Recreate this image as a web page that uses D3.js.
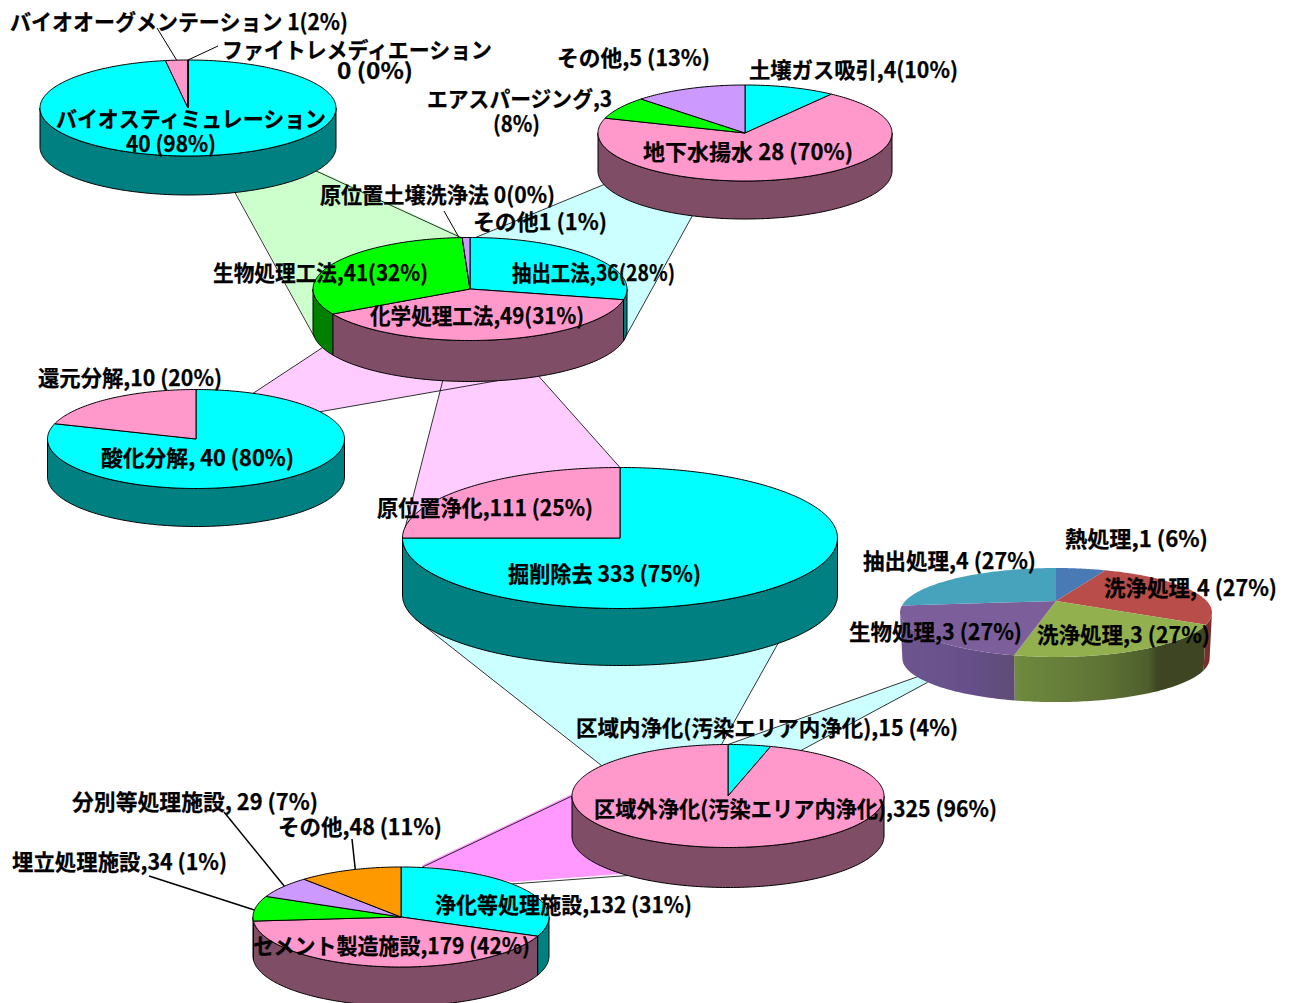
<!DOCTYPE html>
<html>
<head>
<meta charset="utf-8">
<script src="https://cdn.jsdelivr.net/npm/d3@7"></script>
<style>
  html, body { margin: 0; padding: 0; background: #fff; overflow: hidden; }
  text { font-family: "Noto Sans CJK JP", sans-serif; font-weight: 700; fill: #000; stroke: #000; stroke-width: 0.25; }
</style>
</head>
<body>
<div id="chart"></div>
<script>
// values, one set per pie
var bioCategories = ["バイオスティミュレーション", "バイオオーグメンテーション", "ファイトレメディエーション"];
var bioValues = [40, 1, 0];
var pumpCategories = ["土壌ガス吸引", "地下水揚水", "エアスパージング", "その他"];
var pumpValues = [4, 28, 3, 5];
var insituCategories = ["抽出工法", "化学処理工法", "生物処理工法", "原位置土壌洗浄法", "その他"];
var insituValues = [36, 49, 41, 0, 1];
var chemCategories = ["酸化分解", "還元分解"];
var chemValues = [40, 10];
var totalCategories = ["掘削除去", "原位置浄化"];
var totalValues = [333, 111];
var onsiteCategories = ["熱処理", "洗浄処理", "洗浄処理", "生物処理", "抽出処理"];
var onsiteValues = [1, 4, 3, 3, 4];
var areaCategories = ["区域内浄化", "区域外浄化"];
var areaValues = [15, 325];
var offsiteCategories = ["浄化等処理施設", "セメント製造施設", "埋立処理施設", "分別等処理施設", "その他"];
var offsiteValues = [132, 179, 34, 29, 48];

// a label can wrap, each inner list is one text with its lines
var labelTexts = [
  ["バイオオーグメンテーション 1(2%)"], ["ファイトレメディエーション", "0 (0%)"],
  ["バイオスティミュレーション", "40 (98%)"], ["その他,5 (13%)"], ["土壌ガス吸引,4(10%)"],
  ["エアスパージング,3", "(8%)"], ["地下水揚水 28 (70%)"], ["原位置土壌洗浄法 0(0%)"],
  ["その他1 (1%)"], ["生物処理工法,41(32%)"], ["抽出工法,36(28%)"], ["化学処理工法,49(31%)"],
  ["還元分解,10 (20%)"], ["酸化分解, 40 (80%)"], ["原位置浄化,111 (25%)"], ["掘削除去 333 (75%)"],
  ["熱処理,1 (6%)"], ["抽出処理,4 (27%)"], ["洗浄処理,4 (27%)"], ["生物処理,3 (27%)"],
  ["洗浄処理,3 (27%)"], ["区域内浄化(汚染エリア内浄化),15 (4%)"], ["区域外浄化(汚染エリア内浄化),325 (96%)"],
  ["分別等処理施設, 29 (7%)"], ["その他,48 (11%)"], ["埋立処理施設,34 (1%)"],
  ["浄化等処理施設,132 (31%)"], ["セメント製造施設,179 (42%)"]
];

// left edge, right edge and middle height of every line, same order as labelTexts
var labelBoxes = [
  [[10, 348, 22]], [[222, 492, 50], [337, 413, 71]],
  [[56, 326, 119], [126, 216, 144]], [[557, 710, 58]], [[749, 958, 70]],
  [[427, 612, 99], [493, 540, 124]], [[643, 853, 152]], [[320, 555, 195]],
  [[473, 607, 222]], [[213, 428, 273]], [[512, 675, 273]], [[370, 584, 316]],
  [[38, 222, 378]], [[101, 294, 458]], [[377, 593, 508]], [[508, 701, 574]],
  [[1065, 1208, 539]], [[863, 1036, 561]], [[1104, 1277, 588]], [[849, 1022, 632]],
  [[1037, 1210, 635]], [[576, 958, 728]], [[594, 997, 809]],
  [[72, 318, 802]], [[278, 442, 827]], [[12, 227, 862]],
  [[435, 692, 905]], [[253, 530, 946]]
];

var width = 1289, height = 1003;
var fontSize = 22;

var flat = {cyan: "#00FFFF", pink: "#FF99CC", green: "#00FF00", purple: "#CC99FF", orange: "#FF9900"};
var side = {cyan: "#008080", pink: "#804D66", green: "#008000", purple: "#664D80", orange: "#804D00"};

// where each pie sits; k is the perspective of the one pie that has it
var pies = {
  bio:     {values: bioValues, cx: 188, cy: 108, rx: 148, ry: 48, depth: 39, colors: ["cyan", "pink", "purple"]},
  pump:    {values: pumpValues, cx: 745, cy: 133, rx: 147, ry: 48, depth: 38, colors: ["cyan", "pink", "green", "purple"]},
  insitu:  {values: insituValues, cx: 470, cy: 289, rx: 157, ry: 51.5, depth: 41, colors: ["cyan", "pink", "green", "pink", "purple"]},
  chem:    {values: chemValues, cx: 196, cy: 439, rx: 148.5, ry: 49.5, depth: 38, colors: ["cyan", "pink"]},
  total:   {values: totalValues, cx: 620, cy: 538, rx: 217.5, ry: 70.5, depth: 57, colors: ["cyan", "pink"]},
  area:    {values: areaValues, cx: 728, cy: 796, rx: 156, ry: 51.5, depth: 40, colors: ["cyan", "pink"]},
  offsite: {values: offsiteValues, cx: 401, cy: 917, rx: 148, ry: 50, depth: 39, colors: ["cyan", "pink", "green", "purple", "orange"]},
  onsite:  {values: onsiteValues, cx: 1056, cy: 601, rx: 150.7, ry: 41.5, depth: 46, k: 0.258, shrink: 0.985, gradient: true}
};

// bands between pies: pie, angle and level (0 top rim, 1 bottom rim) of the four corners
var bands = [
  {fill: "#CCFFCC", lift: 1.5, a: ["bio", 120, 1], b: ["insitu", 356.7, 0], c: ["insitu", 262, 1], d: ["bio", 161.5, 1]},
  {fill: "#CCFFFF", lift: 0, a: ["pump", 253.6, 1], b: ["insitu", 2, 0], c: ["insitu", 103, 1], d: ["pump", 201, 1]},
  {fill: "#FFCCFF", lift: 0, a: ["insitu", 154, 1], b: ["total", 0, 0], c: ["total", 270, 0], d: ["insitu", 190, 1]},
  {fill: "#FFCCFF", lift: 0, a: ["insitu", 250, 1], b: ["chem", 22.6, 0], c: ["chem", 56.6, 0], d: ["insitu", 170, 1]},
  {fill: "#CCFFFF", lift: 0, a: ["total", 250.5, 1], b: ["area", 306, 0], c: ["area", 357.6, 0], d: ["total", 133.4, 1]},
  {fill: "#CCFFFF", lift: 0, a: ["onsite", 232, 1], b: ["area", 0, 0], c: ["area", 27.9, 0], d: ["onsite", 225, 1]},
  {fill: "#FF99FF", lift: 2, a: ["area", 270, 0], b: ["offsite", 8, 0], c: ["offsite", 48.6, 0], d: ["area", 219.9, 1]}
];

// leader lines: pie, rim angle, far end, stroke width
var leaders = [
  ["bio", 355.6, 157, 28, 1], ["bio", 0, 218, 46, 1], ["insitu", 356, 444, 211, 1],
  ["offsite", 342, 352, 839, 1.5], ["offsite", 308, 224, 812, 1.5], ["offsite", 278, 149, 876, 1.5]
];

var svg = d3.select("#chart")
  .append("svg")
    .attr("width", width)
    .attr("height", height);

var defs = svg.append("defs");

// the shaded pie has soft edges in the picture
defs.append("filter")
    .attr("id", "soft")
  .append("feGaussianBlur")
    .attr("stdDeviation", 0.5);

// a point on a pie's rim; level 1 is the rim of the underside
function project(p, deg, level) {
  var t = deg * Math.PI / 180,
      k = p.k || 0,
      s = level ? (p.shrink || 1) : 1,
      w = 1 + k * Math.cos(t);
  return [p.cx + p.rx * s * Math.sin(t) / w,
          p.cy + level * p.depth - p.ry * s * Math.cos(t) / w];
}

function arcDegrees(from, to) {
  var list = d3.range(from, to, 1);
  list.push(to);
  return list;
}

var line = d3.line();
var pie = d3.pie().sort(null).startAngle(0).endAngle(2 * Math.PI);

function deg(rad) { return rad * 180 / Math.PI; }

// bands go first, they pass behind the pies
function rimOf(c) { return project(pies[c[0]], c[1], c[2]); }

svg.append("g").selectAll("path")
  .data(bands)
  .enter()
  .append("path")
    .attr("d", function(d) {
      return line([rimOf(d.a), rimOf(d.b), rimOf(d.c), rimOf(d.d)]) + "Z";
    })
    .attr("transform", function(d) { return "translate(0," + (-d.lift) + ")"; })
    .attr("fill", function(d) { return d.fill; });

svg.append("g").selectAll("path")
  .data(bands)
  .enter()
  .append("path")
    .attr("d", function(d) {
      return line([rimOf(d.a), rimOf(d.b)]) + line([rimOf(d.c), rimOf(d.d)]);
    })
    .attr("fill", "none")
    .attr("stroke", "#000")
    .attr("stroke-width", 0.8);

// the soft office-style colours of the shaded pie
var onsiteTop = ["#4A7AB5", "#B84D4A", "#93B04F", "#7C5F9A", "#46A2BC"];
var onsiteSide = [
  [["0%", "#3F628F"], ["100%", "#3F628F"]],
  [["0%", "#7A2F2D"], ["100%", "#7A2F2D"]],
  [["0%", "#6F8A3F"], ["45%", "#5F7436"], ["70%", "#4E5F2C"], ["75%", "#3C4520"], ["100%", "#3C4520"]],
  [["0%", "#6D5590"], ["60%", "#66508A"], ["100%", "#5F4C76"]],
  [["0%", "#3A8299"], ["100%", "#3A8299"]]
];

function drawPie(name) {
  var p = pies[name];
  var arcs = pie(p.values);
  var k = p.k || 0;
  // side wall is seen between the two silhouette angles
  var sideFrom = 90 + deg(Math.asin(k)), sideTo = 270 - deg(Math.asin(k));
  var g = svg.append("g").attr("class", "pie-" + name);
  if (p.gradient) g.attr("filter", "url(#soft)");

  arcs.forEach(function(a, i) {
    var from = Math.max(deg(a.startAngle), sideFrom),
        to = Math.min(deg(a.endAngle), sideTo);
    if (to <= from) return;
    var rim = arcDegrees(from, to);
    var outline = rim.map(function(t) { return project(p, t, 0); })
      .concat(rim.slice().reverse().map(function(t) { return project(p, t, 1); }));
    var path = g.append("path").attr("d", line(outline) + "Z");
    if (p.gradient) {
      var id = "side-" + name + "-" + i;
      var x0 = d3.min(outline, function(q) { return q[0]; }),
          x1 = d3.max(outline, function(q) { return q[0]; });
      defs.append("linearGradient")
          .attr("id", id)
          .attr("gradientUnits", "userSpaceOnUse")
          .attr("x1", x0).attr("x2", x1).attr("y1", 0).attr("y2", 0)
        .selectAll("stop")
        .data(onsiteSide[i])
        .enter()
        .append("stop")
          .attr("offset", function(d) { return d[0]; })
          .attr("stop-color", function(d) { return d[1]; });
      path.attr("fill", "url(#" + id + ")");
    } else {
      path.attr("fill", side[p.colors[i]])
          .attr("stroke", "#000")
          .attr("stroke-width", 1);
    }
  });

  arcs.forEach(function(a, i) {
    var rim = arcDegrees(deg(a.startAngle), deg(a.endAngle))
      .map(function(t) { return project(p, t, 0); });
    var path = g.append("path")
      .attr("d", line([[p.cx, p.cy]].concat(rim)) + "Z");
    if (p.gradient) {
      path.attr("fill", onsiteTop[i]);
    } else {
      path.attr("fill", flat[p.colors[i]])
          .attr("stroke", "#000")
          .attr("stroke-width", 1);
    }
  });
}

["bio", "pump", "insitu", "chem", "total", "area", "offsite", "onsite"].forEach(drawPie);

// leader lines
svg.append("g").selectAll("line")
  .data(leaders)
  .enter()
  .append("line")
    .attr("x1", function(d) { return project(pies[d[0]], d[1], 0)[0]; })
    .attr("y1", function(d) { return project(pies[d[0]], d[1], 0)[1]; })
    .attr("x2", function(d) { return d[2]; })
    .attr("y2", function(d) { return d[3]; })
    .attr("stroke", "#000")
    .attr("stroke-width", function(d) { return d[4]; });

// labels are squeezed to the width they have in the picture
svg.append("g").selectAll("text")
  .data(labelTexts)
  .enter()
  .append("text")
    .attr("font-size", fontSize)
  .each(function(lines, i) {
    d3.select(this).selectAll("tspan")
      .data(lines)
      .enter()
      .append("tspan")
        .attr("x", function(d, j) { return labelBoxes[i][j][0]; })
        .attr("y", function(d, j) { return labelBoxes[i][j][2]; })
        .attr("dy", "0.36em")
        .attr("textLength", function(d, j) { return labelBoxes[i][j][1] - labelBoxes[i][j][0]; })
        .attr("lengthAdjust", "spacingAndGlyphs")
        .text(function(d) { return d; });
  });
</script>
</body>
</html>
